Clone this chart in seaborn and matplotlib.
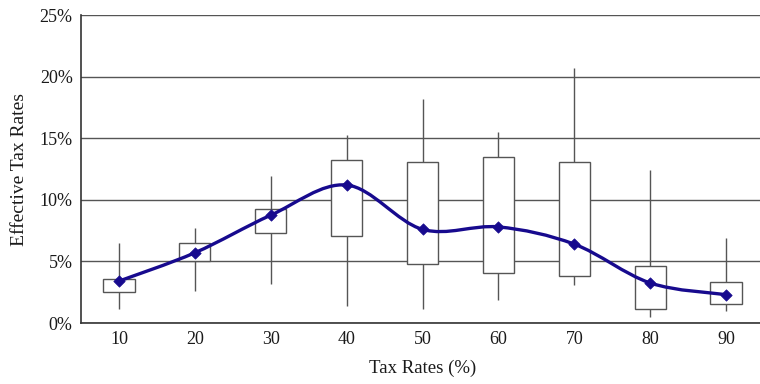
import numpy as np
import pandas as pd
import seaborn as sns
import matplotlib.pyplot as plt
from matplotlib.path import Path
from matplotlib.patches import PathPatch
from matplotlib.ticker import FuncFormatter, FixedLocator

# Data (percent)
tax_rates = ["10", "20", "30", "40", "50", "60", "70", "80", "90"]
whisker_low = [1.1, 2.6, 3.2, 1.4, 1.1, 1.85, 3.1, 0.45, 0.95]
box_low = [2.5, 5.0, 7.3, 7.1, 4.8, 4.05, 3.8, 1.15, 1.55]
box_high = [3.6, 6.5, 9.25, 13.2, 13.1, 13.45, 13.1, 4.65, 3.35]
whisker_high = [6.5, 7.7, 11.9, 15.3, 18.2, 15.5, 20.7, 12.45, 6.9]
mean_rate = [3.4, 5.7, 8.75, 11.2, 7.6, 7.8, 6.4, 3.25, 2.3]

# five-number rows so the box edges land on the read quartiles
rows = []
for i, r in enumerate(tax_rates):
    for v in (whisker_low[i], box_low[i], mean_rate[i], box_high[i], whisker_high[i]):
        rows.append({"rate": r, "eff": v})
df = pd.DataFrame(rows)
df_mean = pd.DataFrame({"rate": tax_rates, "eff": mean_rate})

sns.set_style("white")
plt.rcParams["font.family"] = ["Liberation Serif", "DejaVu Serif"]

fig = plt.figure(figsize=(7.6, 3.84), dpi=100)
ax = fig.add_axes([81 / 760, 61 / 384, 683 / 760, 308 / 384])
ax.set_axisbelow(True)

grey = "#555555"
sns.boxplot(data=df, x="rate", y="eff", order=tax_rates, whis=(0, 100), width=0.41,
            color="white", linecolor=grey, linewidth=1.0, showfliers=False,
            showcaps=False, medianprops={"visible": False}, ax=ax)
for p in ax.patches:
    p.set_facecolor("white")
    p.set_zorder(2)

# smoothed line through the means (Catmull-Rom style Bezier segments)
line_col = "#170a8e"
pts = np.column_stack([np.arange(len(mean_rate)), mean_rate]).astype(float)
ext = np.vstack([pts[0], pts, pts[-1]])
verts = [tuple(pts[0])]
codes = [Path.MOVETO]
for k in range(1, len(ext) - 2):
    p0, p1, p2, p3 = ext[k - 1], ext[k], ext[k + 1], ext[k + 2]
    c1 = p1 + (p2 - p0) / 6
    c2 = p2 - (p3 - p1) / 6
    verts += [tuple(c1), tuple(c2), tuple(p2)]
    codes += [Path.CURVE4] * 3
ax.add_patch(PathPatch(Path(verts, codes), facecolor="none", edgecolor=line_col,
                       lw=2.4, zorder=4, capstyle="round"))
sns.scatterplot(data=df_mean, x="rate", y="eff", marker="D", s=34, color=line_col,
                edgecolor=line_col, zorder=5, ax=ax, legend=False)

ax.set_xlim(-0.5, 8.5)
ax.set_ylim(0, 25)
ax.set_yticks(np.arange(0, 26, 5))
ax.yaxis.set_major_formatter(FuncFormatter(lambda v, _: f"{v:.0f}%"))
ax.yaxis.grid(True, color="#555555", lw=1.0)
ax.xaxis.grid(False)
ax.xaxis.set_minor_locator(FixedLocator(np.arange(0.5, 8.5, 1)))
ax.tick_params(axis="x", which="major", length=0, labelsize=13, pad=6, colors="#1a1a1a")
ax.tick_params(axis="x", which="minor", length=4, width=1, color=grey, direction="out")
ax.tick_params(axis="y", which="major", length=4, width=1, color=grey, direction="out",
               labelsize=13, labelcolor="#1a1a1a", pad=2)

for side in ("top", "right"):
    ax.spines[side].set_visible(False)
for side in ("left", "bottom"):
    ax.spines[side].set_color("#333333")
    ax.spines[side].set_linewidth(1.2)

ax.set_xlabel("Tax Rates (%)", fontsize=13.5, labelpad=8, color="#1a1a1a")
ax.set_ylabel("Effective Tax Rates", fontsize=14, labelpad=8, color="#1a1a1a")

fig.savefig("out.png", dpi=100)
